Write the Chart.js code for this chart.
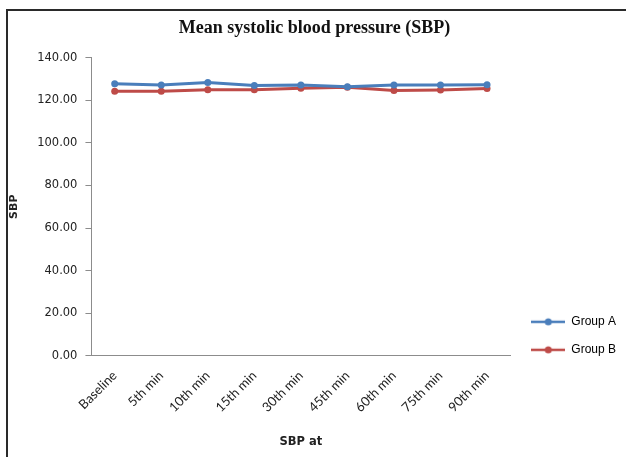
<!DOCTYPE html>
<html>
<head>
<meta charset="utf-8">
<script src="https://cdn.jsdelivr.net/npm/chart.js@4"></script>
<style>
  html, body { margin: 0; padding: 0; background: #fff; }
  #wrap { position: relative; width: 626px; height: 457px; overflow: hidden; }
  #frame { position: absolute; left: 6px; top: 9px; width: 700px; height: 500px;
           border-left: 2px solid #2a2a2a; border-top: 2px solid #2a2a2a; pointer-events: none; }
  canvas { position: absolute; left: 0; top: 0; }
</style>
</head>
<body>
<div id="wrap">
  <canvas id="c" width="626" height="457"></canvas>
  <div id="frame"></div>
</div>
<script>
const categories = ["Baseline", "5th min", "10th min", "15th min", "30th min", "45th min", "60th min", "75th min", "90th min"];
const groupA = [127.7, 127.1, 128.3, 126.9, 127.1, 126.3, 127.1, 127.1, 127.3];
const groupB = [124.2, 124.2, 124.9, 124.9, 125.6, 126.1, 124.5, 124.8, 125.5];
const yTicks = [0, 20, 40, 60, 80, 100, 120, 140];

function legendMarker(color) {
  const c = document.createElement('canvas');
  c.width = 34; c.height = 10;
  const g = c.getContext('2d');
  g.strokeStyle = color; g.lineWidth = 2.5;
  g.beginPath(); g.moveTo(0, 5); g.lineTo(34, 5); g.stroke();
  g.fillStyle = color;
  g.beginPath(); g.arc(17, 5, 3.5, 0, Math.PI * 2); g.fill();
  return c;
}

const colorA = '#4a7ebb';
const colorB = '#be4b48';

const legendShift = {
  id: 'legendShift',
  afterLayout(chart) {
    const lg = chart.legend;
    if (!lg) return;
    const dx = 5, dy = 16;
    lg.left += dx; lg.right += dx; lg.top += dy; lg.bottom += dy;
  }
};

new Chart(document.getElementById('c'), {
  type: 'line',
  data: {
    labels: categories,
    datasets: [
      { label: 'Group A', data: groupA, borderColor: colorA, backgroundColor: colorA,
        borderWidth: 3, pointRadius: 3.5, pointBorderWidth: 0, tension: 0 },
      { label: 'Group B', data: groupB, borderColor: colorB, backgroundColor: colorB,
        borderWidth: 3, pointRadius: 3.5, pointBorderWidth: 0, tension: 0 }
    ]
  },
  plugins: [legendShift],
  options: {
    responsive: false,
    animation: false,
    devicePixelRatio: 1,
    layout: { padding: { left: 8, right: 5, top: 10, bottom: 8 } },
    plugins: {
      title: {
        display: true, text: 'Mean systolic blood pressure (SBP)',
        font: { family: 'Liberation Serif', size: 18, weight: 'bold' }, color: '#111',
        padding: { top: 8, bottom: 18 }
      },
      legend: {
        position: 'right', align: 'end', fullSize: false,
        labels: {
          font: { family: 'Liberation Sans', size: 12 }, color: '#222',
          usePointStyle: true, pointStyleWidth: 34, padding: 16,
          generateLabels: (chart) => chart.data.datasets.map((ds, i) => ({
            text: ds.label, fillStyle: ds.borderColor, strokeStyle: ds.borderColor,
            lineWidth: 0, pointStyle: legendMarker(ds.borderColor), datasetIndex: i, hidden: false
          }))
        }
      },
      tooltip: { enabled: false }
    },
    scales: {
      x: {
        offset: true,
        grid: { display: false },
        border: { display: true, color: '#8c8c8c', width: 1 },
        ticks: { maxRotation: 45, minRotation: 45, color: '#222',
                 font: { family: 'Lato', size: 13 }, padding: 4 },
        title: { display: true, text: 'SBP at', color: '#222',
                 font: { family: 'DejaVu Sans', size: 11.5, weight: 'bold' }, padding: { top: 16, bottom: 0 } }
      },
      y: {
        min: 0, max: 140,
        afterBuildTicks: (axis) => { axis.ticks = yTicks.map(v => ({ value: v })); },
        grid: { display: true, drawOnChartArea: false, drawTicks: true, tickLength: 6, color: '#8c8c8c' },
        border: { display: true, color: '#8c8c8c', width: 1 },
        ticks: { color: '#222', font: { family: 'DejaVu Sans', size: 11.5 }, padding: 8,
                 callback: (v) => Number(v).toFixed(2) },
        title: { display: true, text: 'SBP', color: '#222',
                 font: { family: 'DejaVu Sans', size: 11, weight: 'bold' }, padding: { top: 0, bottom: 8 } }
      }
    }
  }
});
</script>
</body>
</html>
